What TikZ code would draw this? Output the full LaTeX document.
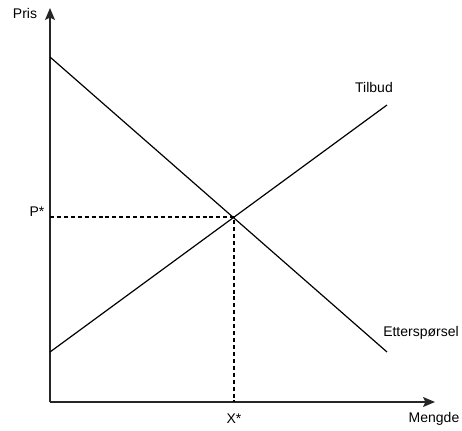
\documentclass[tikz,border=0pt]{standalone}
\usepackage{fontspec}
\setmainfont{Liberation Sans}
\usetikzlibrary{arrows.meta,positioning}

\begin{document}
\begin{tikzpicture}[x=0.75pt,y=0.75pt]
  \tikzstyle{lbl}=[inner sep=1pt,font=\fontsize{10.5}{12}\selectfont]
  \tikzstyle{akse}=[line width=1.1pt,black!85,-{Stealth[length=9pt,width=7.5pt,inset=1.8pt]}]
  \tikzstyle{kurve}=[line width=0.9pt]
  \useasboundingbox (0,0) rectangle (462,430);

  % pixel coordinates, origin bottom-left
  \coordinate (o) at (50,28);
  \coordinate (ytop) at (50,422);
  \coordinate (xend) at (435,28);
  \coordinate (d0) at (50,373);
  \coordinate (d1) at (387,78);
  \coordinate (s0) at (50,78);
  \coordinate (s1) at (387,325);
  \coordinate (eq) at (234,213);
  \coordinate (py) at (50,213);
  \coordinate (qx) at (234,28);

  \draw[akse] (o)--(ytop);
  \draw[akse] (o)--(xend);
  \draw[kurve] (d0)--(d1);
  \draw[kurve] (s0)--(s1);
  \draw[kurve,dash pattern=on 3pt off 2.2pt] (py)--(eq)--(qx);

  \node[lbl] (pris) at (25,417) {Pris};
  \node[lbl] (pstar) at (37,218) {P*};
  \node[lbl] (xstar) at (234,11) {X*};
  \node[lbl] (mengde) at (434,11) {Mengde};
  \node[lbl] (tilbud) at (374,343) {Tilbud};
  \node[lbl] (ettersp) at (421,97) {Etterspørsel};
\end{tikzpicture}
\end{document}
